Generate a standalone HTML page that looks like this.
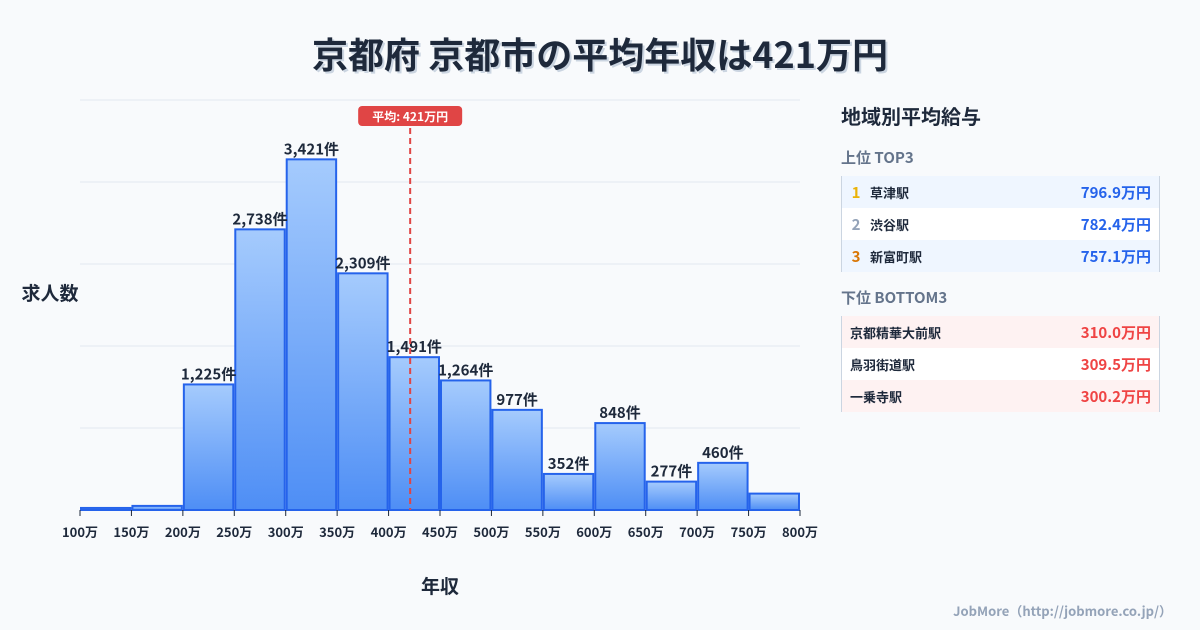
<!DOCTYPE html>
<html><head><meta charset="utf-8"><style>
body{margin:0;width:1200px;height:630px;background:#f8fafc;font-family:"Noto Sans CJK JP","Liberation Sans",sans-serif;overflow:hidden;position:relative;color:#1e293b}
.t{position:absolute}
.row{position:absolute;left:841px;width:319px;height:32px;font-size:13px;font-weight:bold;display:flex;align-items:center;border-right:1px solid #cbd5e1;border-left:1px solid #cbd5e1;box-sizing:border-box}
.row .v{margin-left:auto;margin-right:8px;font-size:15px}
</style></head><body>
<div class="t" style="left:0;width:1200px;top:28px;text-align:center;font-size:36px;line-height:50px;font-weight:bold;text-shadow:2px 2px 0 #cbd5e1">京都府 京都市の平均年収は421万円</div>
<svg class="t" style="left:0;top:0;font-family:'Noto Sans CJK JP','Liberation Sans',sans-serif" width="830" height="630">
<g id="grid"></g><g id="bars"></g><g id="labels"></g><g id="xt"></g>
<text x="50" y="300" text-anchor="middle" font-size="19" font-weight="bold" fill="#1e293b">求人数</text>
<text x="440" y="593" text-anchor="middle" font-size="19" font-weight="bold" fill="#1e293b">年収</text>
<g id="mean"></g>
</svg>
<div class="t" style="left:841px;top:101px;font-size:20px;font-weight:bold">地域別平均給与</div>
<div class="t" style="left:841px;top:147px;font-size:15px;font-weight:bold;color:#64748b">上位 TOP3</div>
<div class="row" style="top:176px;background:#eff6ff"><span style="color:#eab308;width:28px;text-align:center;font-size:15px">1</span>草津駅<span class="v" style="color:#2563eb">796.9万円</span></div>
<div class="row" style="top:208px;background:#fff"><span style="color:#94a3b8;width:28px;text-align:center;font-size:15px">2</span>渋谷駅<span class="v" style="color:#2563eb">782.4万円</span></div>
<div class="row" style="top:240px;background:#eff6ff"><span style="color:#d97706;width:28px;text-align:center;font-size:15px">3</span>新富町駅<span class="v" style="color:#2563eb">757.1万円</span></div>
<div class="t" style="left:841px;top:287px;font-size:15px;font-weight:bold;color:#64748b">下位 BOTTOM3</div>
<div class="row" style="top:316px;background:#fef2f2;padding-left:8px">京都精華大前駅<span class="v" style="color:#ef4444">310.0万円</span></div>
<div class="row" style="top:348px;background:#fff;padding-left:8px">鳥羽街道駅<span class="v" style="color:#ef4444">309.5万円</span></div>
<div class="row" style="top:380px;background:#fef2f2;padding-left:8px">一乗寺駅<span class="v" style="color:#ef4444">300.2万円</span></div>
<div class="t" style="right:28px;top:601px;font-size:13px;font-weight:bold;color:#94a3b8">JobMore（http://jobmore.co.jp/）</div>
<script>
const binStarts=[100,150,200,250,300,350,400,450,500,550,600,650,700,750];
const counts=[20,40,1225,2738,3421,2309,1491,1264,977,352,848,277,460,160];
const showLabel=[false,false,true,true,true,true,true,true,true,true,true,true,true,false];
const xTicks=[100,150,200,250,300,350,400,450,500,550,600,650,700,750,800];
const yTicks=[0,800,1600,2400,3200,4000];
const meanVal=421;
const NS="http://www.w3.org/2000/svg";
const X=v=>80+(v-100)/700*720, Y=v=>510-v/4000*410;
function mk(t,a,p){const e=document.createElementNS(NS,t);for(const k in a)e.setAttribute(k,a[k]);document.getElementById(p).appendChild(e);return e;}
const svg=document.querySelector('svg');
const defs=document.createElementNS(NS,'defs');defs.innerHTML='<linearGradient id="bg" x1="0" y1="0" x2="0" y2="1"><stop offset="0" stop-color="#a5cbfd"/><stop offset="1" stop-color="#4e8ef5"/></linearGradient>';svg.prepend(defs);
yTicks.forEach(v=>{const l=mk('line',{x1:80,x2:800,y1:Y(v),y2:Y(v),stroke:'#e2e8f0','stroke-width':1},'grid');

});
binStarts.forEach((b,i)=>{const x0=X(b)+1,x1=X(b+50)-1,y=Y(counts[i]);
const r=mk('rect',{x:x0,y:y,width:x1-x0,height:510-y,fill:'url(#bg)',stroke:'#2563eb','stroke-width':2},'bars');


if(showLabel[i]){const t=mk('text',{x:(x0+x1)/2,y:y-5,'text-anchor':'middle','font-size':15,'font-weight':'bold',fill:'#1e293b'},'labels');t.textContent=counts[i].toLocaleString('en-US')+'件';

}});
xTicks.forEach(v=>{const l=mk('line',{x1:X(v),x2:X(v),y1:510,y2:516,stroke:'#1e293b'},'xt');


const t=mk('text',{x:X(v),y:537,'text-anchor':'middle','font-size':13,'font-weight':'bold',fill:'#1e293b'},'xt');t.textContent=v+'万';

});
const mx=X(meanVal);
const ml=mk('line',{x1:mx,x2:mx,y1:128,y2:510,stroke:'#e04545','stroke-width':2,'stroke-dasharray':'6,4'},'mean');


const mb=mk('rect',{x:mx-52,y:106,width:104,height:20,rx:4,fill:'#e04545'},'mean');


const mt=mk('text',{x:mx,y:121,'text-anchor':'middle','font-size':12,'font-weight':'bold',fill:'#fff'},'mean');mt.textContent='平均: '+meanVal+'万円';


</script>
</body></html>
